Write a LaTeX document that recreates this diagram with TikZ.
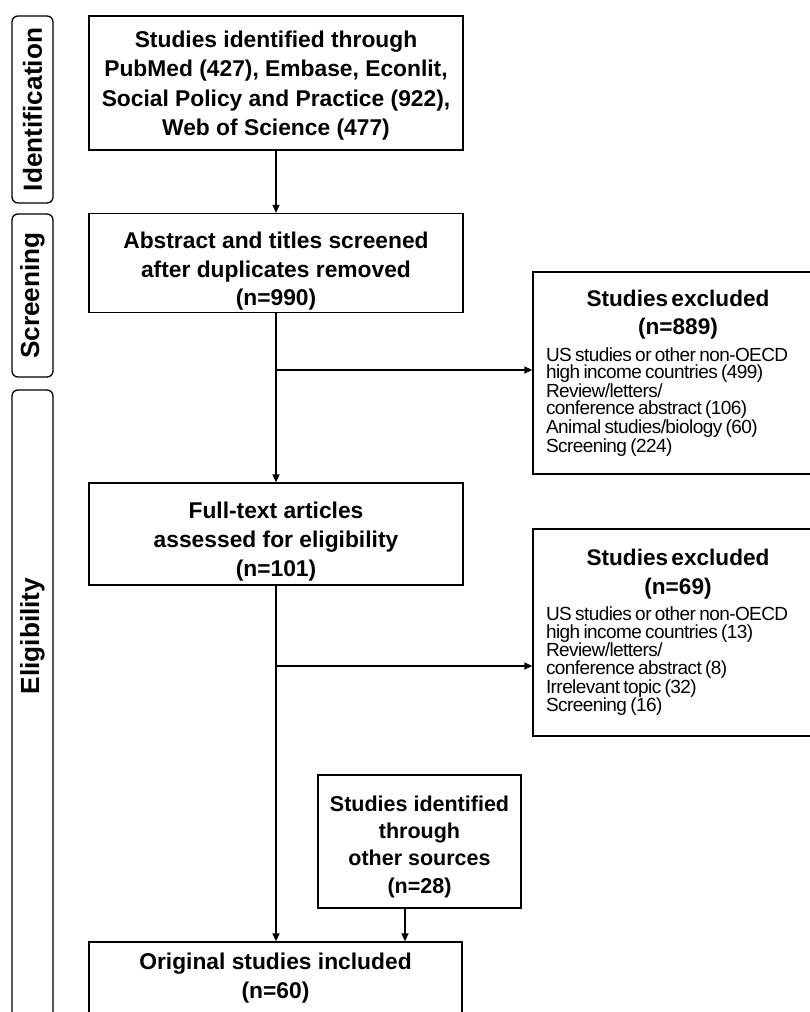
\documentclass[tikz,border=0pt]{standalone}
\usepackage{fontspec}
\setmainfont{Liberation Sans}
\newfontfamily\tightsans[LetterSpace=-3]{Liberation Sans}
\usetikzlibrary{arrows.meta}

\newcommand{\boxfont}{\bfseries\fontsize{22.8}{28.7}\selectfont}
\newcommand{\topboxfont}{\bfseries\fontsize{22.8}{29.3}\selectfont}
\newcommand{\smallboxfont}{\bfseries\fontsize{21.5}{27.2}\selectfont}
\newcommand{\exctitle}{\bfseries\fontsize{22.6}{28.5}\selectfont}
\newcommand{\excbody}{\tightsans\mdseries\fontsize{19}{17.6}\selectfont}
% taller first line pushes a box's text block downwards
\newcommand{\lift}[1]{\rule{0pt}{#1pt}}

\begin{document}
\begin{tikzpicture}[x=1pt,y=-1pt,
  mainbox/.style={draw, line width=1.3pt, align=center, font=\boxfont,
    inner sep=0pt},
  excbox/.style={draw, line width=1.3pt, inner xsep=13pt, inner ysep=0pt,
    text width=264pt, minimum width=290pt},
  sidebox/.style={draw, line width=1.3pt, rounded corners=6pt},
  sidelabel/.style={font=\bfseries\fontsize{26.2}{30}\selectfont, inner sep=0pt},
  arr/.style={line width=1.3pt, -{Triangle[length=8pt,width=7pt]}}]

\useasboundingbox (0,0) rectangle (809,1012);

% stage labels on the left
\node[sidebox, sidelabel, rotate=90, minimum width=187pt, minimum height=41pt]
  (ident) at (32.5,109.5) {Identification};
\node[sidebox, sidelabel, rotate=90, minimum width=163pt, minimum height=41pt]
  (screen) at (32.5,295.5) {Screening};
\draw[sidebox] (12,390) rectangle (53,1040);
\node[sidelabel, rotate=90] (elig) at (32.5,636) {Eligibility};

% main flow
\node[mainbox, font=\topboxfont, minimum width=374pt, minimum height=134pt] (b1) at (276,83)
  {\lift{22}Studies identified through\\PubMed (427), Embase, Econlit,\\Social Policy and Practice (922),\\Web of Science (477)};
\node[mainbox, minimum width=374pt, minimum height=99pt] (b2) at (276,263)
  {\lift{33}Abstract and titles screened\\after duplicates removed\\(n=990)};
\node[mainbox, minimum width=374pt, minimum height=102pt] (b3) at (276,534)
  {\lift{32}Full-text articles\\assessed for eligibility\\(n=101)};
\node[mainbox, font=\smallboxfont, minimum width=203pt, minimum height=133pt] (oth) at (419.5,841.5)
  {\lift{26}Studies identified\\through\\other sources\\(n=28)};
\node[mainbox, minimum width=373pt, minimum height=78pt] (fin) at (275.5,981)
  {Original studies included\\(n=60)\rule[-10pt]{0pt}{10pt}};
\draw[line width=1.3pt] (fin.south west) -- ++(0,30);
\draw[line width=1.3pt] (fin.south east) -- ++(0,30);

% exclusion boxes
\node[excbox, minimum height=202pt] (ex1) at (678,373)
  {\parskip=0pt{\centering\exctitle Studies excluded\\(n=889)\par}\vspace{7pt}%
   {\raggedright\excbody US studies or other non-OECD\\high income countries (499)\\Review/letters/\\conference abstract (106)\\Animal studies/biology (60)\\Screening (224)\par}\vspace{5pt}};
\node[excbox, minimum height=207pt] (ex2) at (678,632.5)
  {\parskip=0pt{\centering\exctitle Studies excluded\\(n=69)\par}\vspace{7pt}%
   {\raggedright\excbody US studies or other non-OECD\\high income countries (13)\\Review/letters/\\conference abstract (8)\\Irrelevant topic (32)\\Screening (16)\par}\vspace{21pt}};

% connectors
\coordinate (j1) at (276,370);
\coordinate (j2) at (276,666);
\draw[arr] (b1) -- (b2);
\draw[arr] (b2) -- (b3);
\draw[arr] (j1) -- (j1 -| ex1.west);
\draw[arr] (b3.south) -- (b3.south |- fin.north);
\draw[arr] (j2) -- (j2 -| ex2.west);
\draw[arr] ([xshift=-14.5pt]oth.south) -- ([xshift=-14.5pt]oth.south |- fin.north);

\end{tikzpicture}
\end{document}
